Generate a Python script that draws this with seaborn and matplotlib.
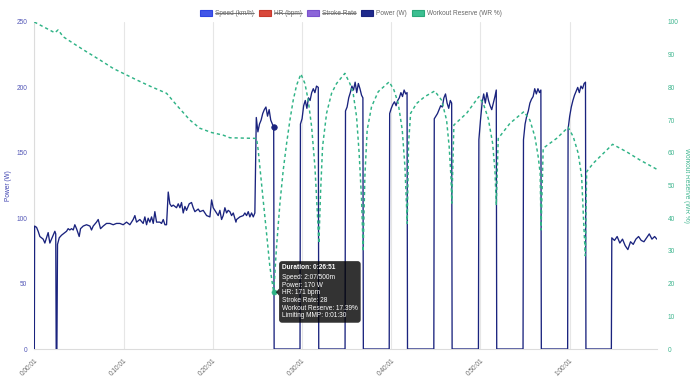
import numpy as np
import pandas as pd
import matplotlib
matplotlib.use("Agg")
import matplotlib.pyplot as plt
import matplotlib.transforms as mtransforms
from matplotlib.patches import Patch, FancyBboxPatch, Polygon
from matplotlib.lines import Line2D
import seaborn as sns

# ---------------- data ----------------
legend_labels = ["Speed (km/h)", "HR (bpm)", "Stroke Rate", "Power (W)", "Workout Reserve (WR %)"]
legend_fill = ["#4256e8", "#d9483b", "#8c66d9", "#1f2a8c", "#3cbf91"]
legend_edge = ["#2f45e0", "#c63a2e", "#7a52cc", "#1a237e", "#2aa87a"]
legend_hidden = [True, True, True, False, False]

tick_minutes = [1 / 60, 10 + 1 / 60, 20 + 1 / 60, 30 + 1 / 60, 40 + 1 / 60, 50 + 1 / 60, 60 + 1 / 60]
tick_labels = ["0:00:01", "0:10:01", "0:20:01", "0:30:01", "0:40:01", "0:50:01", "1:00:01"]
power_ticks = [0, 50, 100, 150, 200, 250]
wr_ticks = [0, 10, 20, 30, 40, 50, 60, 70, 80, 90, 100]

# warm-up / steady block (minutes, watts)
warm_t = [0.02, 0.05, 0.27, 0.45, 0.64, 0.83, 1.01, 1.2, 1.39, 1.57, 1.76, 1.95, 2.13, 2.32, 2.42,
          2.47, 2.55, 2.62, 2.81, 3.07, 3.26, 3.63, 3.81, 4.0, 4.19, 4.38, 4.56, 4.75, 5.05, 5.2,
          5.5, 5.87, 6.25, 6.43, 6.62, 6.99, 7.18, 7.44, 7.74, 8.11, 8.49, 8.86, 9.23, 9.61, 9.98,
          10.36, 10.73, 11.1, 11.29, 11.48, 11.85, 12.22, 12.41, 12.6, 12.78, 12.97, 13.16, 13.35,
          13.53, 13.72, 14.09, 14.28, 14.47, 14.66, 14.84]
warm_p = [0, 94, 93, 90, 86, 85, 84, 81, 85, 89, 81, 84, 87, 90, 88,
          0, 0, 80, 85, 87, 88, 90, 92, 91, 92, 91, 95, 92, 86, 92,
          94, 95, 94, 91, 94, 97, 99, 92, 94, 96, 96, 95, 96, 96, 95,
          97, 95, 99, 102, 97, 99, 96, 101, 95, 100, 97, 101, 96,
          105, 97, 97, 96, 99, 95, 95]
block_t = [15.03, 15.21, 15.4, 15.59, 15.96, 16.15, 16.34, 16.52, 16.71, 16.9, 17.08, 17.38, 17.64,
           17.83, 18.02, 18.2, 18.39, 18.58, 18.95, 19.33, 19.7, 19.89, 20.07, 20.26, 20.45, 20.63,
           20.82, 21.01, 21.19, 21.38, 21.57, 21.75, 21.94, 22.13, 22.32, 22.62, 22.69, 22.88, 23.06,
           23.44, 23.62, 23.81, 24.0, 24.18, 24.37, 24.56, 24.74]
block_p = [120, 111, 109, 110, 108, 111, 108, 112, 104, 109, 106, 111, 112,
           108, 105, 106, 107, 105, 106, 102, 101, 114, 108, 106, 104, 102,
           106, 99, 102, 108, 104, 106, 105, 102, 104, 97, 99, 100, 101,
           102, 104, 102, 105, 101, 104, 101, 104]

# 2-minute intervals
i1_t = [24.9, 25.08, 25.26, 25.44, 25.62, 25.8, 25.98, 26.16, 26.34, 26.52, 26.7, 26.85, 26.9, 29.8]
i1_p = [177, 166, 172, 175, 180, 183, 185, 178, 183, 175, 172, 170, 0, 0]
i2_t = [29.85, 30.03, 30.21, 30.39, 30.57, 30.75, 30.93, 31.11, 31.29, 31.47, 31.65, 31.85, 31.9, 34.85]
i2_p = [172, 176, 186, 190, 184, 192, 190, 196, 199, 196, 201, 200, 0, 0]
i3_t = [34.9, 35.08, 35.26, 35.44, 35.62, 35.8, 35.98, 36.16, 36.34, 36.52, 36.7, 36.85, 36.9, 39.8]
i3_p = [182, 185, 192, 196, 201, 198, 204, 196, 203, 199, 194, 192, 0, 0]
i4_t = [39.85, 40.03, 40.21, 40.39, 40.57, 40.75, 40.93, 41.11, 41.29, 41.47, 41.65, 41.8, 41.85, 44.8]
i4_p = [180, 184, 187, 189, 186, 190, 192, 196, 193, 198, 195, 196, 0, 0]
i5_t = [44.85, 45.03, 45.21, 45.39, 45.57, 45.75, 45.93, 46.11, 46.29, 46.47, 46.65, 46.8, 46.85, 49.8]
i5_p = [176, 178, 180, 183, 186, 185, 192, 195, 188, 184, 190, 188, 0, 0]
i6_t = [49.85, 50.03, 50.21, 50.39, 50.57, 50.75, 50.93, 51.11, 51.29, 51.47, 51.65, 51.8, 51.85, 54.8]
i6_p = [160, 175, 188, 195, 188, 196, 190, 186, 183, 188, 193, 198, 0, 0]
i7_t = [54.85, 55.03, 55.21, 55.39, 55.57, 55.75, 55.93, 56.11, 56.29, 56.47, 56.65, 56.8, 56.85, 59.8]
i7_p = [160, 172, 178, 182, 188, 191, 193, 199, 195, 199, 196, 198, 0, 0]
i8_t = [59.85, 60.03, 60.21, 60.39, 60.57, 60.75, 60.93, 61.11, 61.29, 61.47, 61.65, 61.8, 61.85, 64.7]
i8_p = [168, 178, 185, 190, 194, 197, 200, 196, 201, 199, 203, 204, 0, 0]
cool_t = [64.75, 65.05, 65.35, 65.65, 65.95, 66.25, 66.55, 66.85, 67.15, 67.45, 67.75, 68.05,
          68.35, 68.65, 68.95, 69.25, 69.55, 69.8]
cool_p = [85, 83, 86, 81, 84, 79, 76, 82, 80, 84, 86, 83, 82, 85, 88, 84, 86, 84]

# workout reserve (%)
wr_t = [0.02, 2.32, 2.69, 3.25, 4.37, 5.87, 7.37, 8.86, 9.98, 11.48, 12.97, 14.84, 15.96, 17.46,
        18.58, 19.89, 21.19, 21.94, 24.93, 25.11, 25.3, 25.67, 26.05, 26.42, 26.85, 27.17, 27.55,
        27.92, 28.3, 28.67, 29.04, 29.42, 29.9, 30.35, 30.72, 31.1, 31.47, 31.73, 31.92, 32.1,
        32.33, 32.78, 33.34, 33.9, 34.83, 35.39, 35.76, 36.14, 36.43, 36.7, 36.88, 37.07, 37.33,
        37.82, 38.57, 39.8, 40.33, 40.81, 41.26, 41.56, 41.82, 41.97, 42.2, 42.87, 43.8, 44.9,
        45.67, 46.23, 46.52, 46.72, 46.82, 47.05, 48.48, 49.85, 50.34, 50.9, 51.39, 51.65, 51.8,
        52.02, 53.33, 54.9, 55.57, 56.13, 56.5, 56.72, 56.82, 57.06, 58.56, 59.86, 60.43, 60.99,
        61.37, 61.55, 61.78, 61.93, 62.67, 64.84, 66.41, 67.9, 69.77]
wr_v = [100, 96.7, 97.6, 95.5, 93.5, 90.9, 88.4, 85.8, 84.3, 82.3, 80.4, 78.2, 74.6, 70.0,
        67.5, 66.2, 65.4, 64.6, 64.4, 60.9, 55.7, 45.6, 35.4, 25.2, 17.39, 31.3, 44.6,
        54.7, 62.9, 70.0, 76.1, 80.7, 84.1, 81.2, 76.1, 68.0, 55.8, 42.5, 32.3, 47.6,
        61.9, 72.1, 78.2, 81.2, 84.3, 81.2, 78.2, 71.0, 59.8, 45.6, 29.8, 52.7, 67.0,
        74.1, 78.7, 81.7, 79.2, 75.1, 67.0, 55.8, 38.4, 62.9, 72.1, 75.1, 77.2, 78.9,
        76.1, 70.0, 61.9, 52.7, 44.6, 68.5, 72.1, 77.2, 75.1, 70.5, 62.9, 54.7, 44.0,
        64.4, 69.0, 72.6, 70.0, 64.9, 58.8, 53.7, 36.4, 61.4, 64.4, 67.8, 64.9, 59.8,
        52.7, 41.5, 28.5, 54.2, 56.8, 62.6, 60.3, 57.8, 55.0]

# hovered sample
hover_t = 26.85
hover_power = 170
hover_wr = 17.39
tooltip_title = "Duration: 0:26:51"
tooltip_lines = ["Speed: 2:07/500m", "Power: 170 W", "HR: 171 bpm", "Stroke Rate: 28",
                 "Workout Reserve: 17.39%", "Limiting MMP: 0:01:30"]

# ---------------- styling ----------------
sns.set_style("white")
plt.rcParams["font.family"] = ["Liberation Sans", "DejaVu Sans"]

POWER_C = "#1a237e"
WR_C = "#2fb386"
GRID_C = "#e6e6e6"
FS = 4.7

power_df = pd.DataFrame({
    "t": warm_t + block_t + i1_t + i2_t + i3_t + i4_t + i5_t + i6_t + i7_t + i8_t + cool_t,
    "power": warm_p + block_p + i1_p + i2_p + i3_p + i4_p + i5_p + i6_p + i7_p + i8_p + cool_p,
})
wr_df = pd.DataFrame({"t": wr_t, "wr": wr_v})

W, H = 690, 379
fig = plt.figure(figsize=(W / 100, H / 100), dpi=100)
x0, x1, ytop, ybot = 34.3, 657.3, 22.0, 349.0
ax = fig.add_axes([x0 / W, 1 - ybot / H, (x1 - x0) / W, (ybot - ytop) / H])
ax2 = ax.twinx()

sns.lineplot(data=power_df, x="t", y="power", ax=ax, color=POWER_C, linewidth=0.95,
             estimator=None, sort=False, zorder=3)
sns.lineplot(data=wr_df, x="t", y="wr", ax=ax2, color=WR_C, linewidth=1.05,
             estimator=None, sort=False, zorder=2)
for ln in ax2.get_lines():
    ln.set_dashes((2.2, 2.0))

sns.scatterplot(x=[hover_t], y=[hover_power], ax=ax, color=POWER_C, s=16, edgecolor=POWER_C,
                linewidth=0.5, zorder=5)
sns.scatterplot(x=[hover_t], y=[hover_wr], ax=ax2, color=WR_C, s=13, edgecolor=WR_C,
                linewidth=0.5, zorder=5)

ax.set_xlim(1 / 60, 69.85)
ax.set_ylim(0, 250)
ax2.set_ylim(0, 100)
ax.set_xticks(tick_minutes)
ax.set_xticklabels(tick_labels, rotation=45, ha="right", va="top", rotation_mode="anchor",
                   color="#666666", fontsize=FS)
ax.set_yticks(power_ticks)
ax.set_yticklabels([str(v) for v in power_ticks], color="#5256b6", fontsize=FS)
ax2.set_yticks(wr_ticks)
ax2.set_yticklabels([str(v) for v in wr_ticks], color="#3db58e", fontsize=FS)

ax.xaxis.grid(True, color=GRID_C, linewidth=0.8)
ax.yaxis.grid(False)
ax2.grid(False)
ax.tick_params(axis="x", length=4, color=GRID_C, width=0.8, pad=2)
ax.tick_params(axis="y", length=0, pad=5)
ax2.tick_params(axis="y", length=0, pad=7.5)
for s in ["top", "right"]:
    ax.spines[s].set_visible(False)
for s in ["top", "right", "left", "bottom"]:
    ax2.spines[s].set_visible(False)
ax.spines["left"].set_color("#dcdcdc")
ax.spines["bottom"].set_color("#dcdcdc")
ax.spines["left"].set_linewidth(0.8)
ax.spines["bottom"].set_linewidth(0.8)

ax.set_xlabel("")
ax.set_ylabel("Power (W)", color="#3d41b0", fontsize=FS, rotation=90, ha="center", va="center")
ax.yaxis.set_label_coords((8.3 - x0) / (x1 - x0), 0.5)
ax2.set_ylabel("Workout Reserve (WR %)", color="#3db58e", fontsize=FS, rotation=270,
               ha="center", va="center")
ax2.yaxis.set_label_coords((686.5 - x0) / (x1 - x0), 0.5)

# legend
handles = [Patch(facecolor=f, edgecolor=e, linewidth=0.8) for f, e in zip(legend_fill, legend_edge)]
leg = fig.legend(handles, legend_labels, loc="center", bbox_to_anchor=(351 / W, 1 - 13.3 / H),
                 ncol=5, frameon=False, fontsize=FS, handlelength=1.85, handleheight=1.05,
                 handletextpad=0.45, columnspacing=0.75, borderaxespad=0)
for t in leg.get_texts():
    t.set_color("#666666")

fig.canvas.draw()
renderer = fig.canvas.get_renderer()
inv = fig.transFigure.inverted()
for t, hidden in zip(leg.get_texts(), legend_hidden):
    if hidden:
        bb = t.get_window_extent(renderer).transformed(inv)
        ym = (bb.y0 + bb.y1) / 2
        fig.add_artist(Line2D([bb.x0, bb.x1], [ym, ym], transform=fig.transFigure,
                              color="#666666", linewidth=0.6))

# tooltip
ident = mtransforms.IdentityTransform()
px, py = ax2.transData.transform((hover_t, hover_wr))
box = FancyBboxPatch((px + 5.4, py - 30.6), 81.6, 61.6,
                     boxstyle="round,pad=0,rounding_size=3", transform=ident,
                     facecolor=(0, 0, 0, 0.8), edgecolor="none", zorder=10)
fig.add_artist(box)
caret = Polygon([(px + 2.2, py), (px + 5.5, py + 3.6), (px + 5.5, py - 3.6)], closed=True,
                transform=ident, facecolor=(0, 0, 0, 0.8), edgecolor="none", zorder=10)
fig.add_artist(caret)
fig.text(px + 8.4, py + 24.4, tooltip_title, transform=ident, color="white", fontsize=FS,
         fontweight="bold", va="center", ha="left", zorder=11)
offs = [14.5, 6.9, -0.7, -8.3, -15.9, -23.5]
for s, o in zip(tooltip_lines, offs):
    fig.text(px + 8.4, py + o, s, transform=ident, color="white", fontsize=FS,
             va="center", ha="left", zorder=11)

fig.savefig("out.png", dpi=100)
